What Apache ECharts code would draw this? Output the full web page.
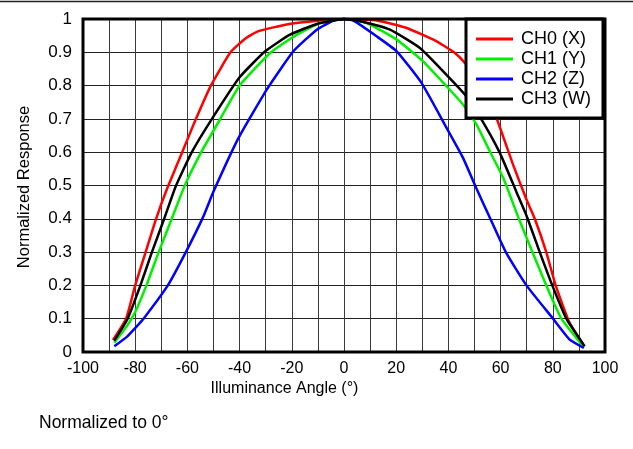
<!DOCTYPE html>
<html>
<head>
<meta charset="utf-8">
<script src="https://cdn.jsdelivr.net/npm/echarts@6/dist/echarts.min.js"></script>
<style>
  html, body { margin: 0; padding: 0; background: #fff; }
  #chart { width: 633px; height: 449px; }
</style>
</head>
<body>
<div id="chart"></div>
<script>
// Angular response of the four colour channels, normalized to the 0° reading
const seriesNames = ['CH0 (X)', 'CH1 (Y)', 'CH2 (Z)', 'CH3 (W)'];
const seriesColors = ['#ff0000', '#00f000', '#0000ff', '#000000'];

const ch0Angles = [-88.5, -83.5, -80, -76, -72, -67.8, -62, -57, -51, -43.5, -38, -33, -21, -10, 0,
                   13, 24, 35.5, 42.5, 46.3, 52, 58.4, 64.8, 69.8, 73.1, 77.5, 81.1, 86.3, 91.9];
const ch0Values = [0.036, 0.10, 0.20, 0.30, 0.40, 0.49, 0.60, 0.695, 0.80, 0.90, 0.94, 0.963, 0.985, 0.995, 1.0,
                   0.995, 0.973, 0.933, 0.898, 0.868, 0.805, 0.703, 0.562, 0.46, 0.40, 0.30, 0.20, 0.09, 0.02];

const ch1Angles = [-88, -83, -80, -75.7, -71, -66, -61, -54.7, -47.4, -40, -28.3, -18.1, -9.2, 0,
                   8.7, 20.2, 30.3, 39.3, 45.6, 50.8, 55.9, 61, 67, 72.2, 77.5, 83.3, 91.6];
const ch1Values = [0.028, 0.08, 0.12, 0.20, 0.30, 0.40, 0.50, 0.60, 0.70, 0.80, 0.898, 0.953, 0.988, 1.0,
                   0.988, 0.938, 0.873, 0.798, 0.743, 0.683, 0.602, 0.523, 0.40, 0.30, 0.20, 0.10, 0.017];

const ch2Angles = [-88, -83, -80, -76.8, -67.5, -60.6, -54, -50, -40.4, -29.6, -19.4, -10.4, -4, 0,
                   3.6, 12.5, 20.2, 29.7, 39.3, 45.6, 50.8, 55.5, 62, 69.9, 80.1, 86.5, 91.9];
const ch2Values = [0.017, 0.047, 0.072, 0.10, 0.20, 0.30, 0.405, 0.482, 0.643, 0.788, 0.903, 0.968, 0.995, 1.0,
                   0.995, 0.948, 0.903, 0.808, 0.673, 0.583, 0.49, 0.41, 0.30, 0.20, 0.10, 0.037, 0.012];

const ch3Angles = [-88, -82.9, -78, -73.6, -68.9, -64.6, -58.3, -50.6, -40, -30.2, -20.7, -10.4, 0,
                   6.1, 17.6, 29.1, 38, 46.3, 52.7, 59.7, 66.1, 69.9, 75, 79.8, 85.2, 92.2];
const ch3Values = [0.034, 0.10, 0.20, 0.30, 0.40, 0.495, 0.60, 0.70, 0.825, 0.903, 0.953, 0.985, 1.0,
                   0.993, 0.968, 0.913, 0.843, 0.773, 0.698, 0.598, 0.48, 0.41, 0.30, 0.20, 0.10, 0.017];

const xTickStep = 10;       // grid every 10°, labels every 20°
const yTickStep = 0.1;

const angleSets = [ch0Angles, ch1Angles, ch2Angles, ch3Angles];
const valueSets = [ch0Values, ch1Values, ch2Values, ch3Values];

const FONT = "'Liberation Sans', Arial, sans-serif";

const chart = echarts.init(document.getElementById('chart'), null, { renderer: 'canvas' });

const series = seriesNames.map((name, i) => ({
  name: name,
  type: 'line',
  data: angleSets[i].map((a, k) => [a, valueSets[i][k]]),
  symbol: 'none',
  smooth: 0.15,
  clip: false,
  lineStyle: { color: seriesColors[i], width: 2.5 },
  itemStyle: { color: seriesColors[i] },
  z: 3
}));

chart.setOption({
  animation: false,
  backgroundColor: '#ffffff',
  grid: { left: 83, right: 28, top: 19, bottom: 97, containLabel: false },
  xAxis: {
    type: 'value',
    min: -100, max: 100, interval: xTickStep,
    axisLine: { show: false },
    axisTick: { show: false },
    splitLine: { show: true, lineStyle: { color: '#3a3a3a', width: 1 } },
    axisLabel: {
      color: '#000', fontFamily: FONT, fontSize: 16, margin: 9,
      formatter: v => (Math.round(v) % 20 === 0 ? String(Math.round(v)) : '')
    }
  },
  yAxis: {
    type: 'value',
    min: 0, max: 1, interval: yTickStep,
    axisLine: { show: false },
    axisTick: { show: false },
    splitLine: { show: true, lineStyle: { color: '#222', width: 1 } },
    axisLabel: {
      color: '#000', fontFamily: FONT, fontSize: 17, margin: 11,
      formatter: v => String(Math.round(v * 10) / 10)
    }
  },
  legend: {
    data: seriesNames,
    orient: 'vertical',
    left: 466, top: 19,
    padding: [10, 12, 9, 10],
    backgroundColor: '#ffffff',
    borderColor: '#000',
    borderWidth: 3,
    icon: 'rect',
    itemWidth: 37, itemHeight: 3,
    itemGap: 0,
    textStyle: { color: '#000', fontFamily: FONT, fontSize: 18, lineHeight: 20, padding: [0, 0, 0, 3] },
    z: 10
  },
  series: series
});

// Plot frame drawn above the curves, plus the surrounding captions
const p0 = chart.convertToPixel({ gridIndex: 0 }, [-100, 0]);
const p1 = chart.convertToPixel({ gridIndex: 0 }, [100, 1]);

chart.setOption({
  graphic: [
    {
      type: 'line', z: 100,
      shape: { x1: 0, y1: 1.5, x2: 633, y2: 1.5 },
      style: { stroke: '#222', lineWidth: 1.5 }
    },
    {
      type: 'rect', z: 100,
      shape: { x: p0[0], y: p1[1], width: p1[0] - p0[0], height: p0[1] - p1[1] },
      style: { fill: null, stroke: '#000', lineWidth: 3 }
    },
    {
      type: 'text', z: 100,
      x: 284.5, y: 397,
      style: {
        text: 'Illuminance Angle (°)', fill: '#000',
        font: '16px ' + FONT, textAlign: 'center', textVerticalAlign: 'bottom'
      }
    },
    {
      type: 'text', z: 100,
      x: 24, y: 187, rotation: Math.PI / 2,
      style: {
        text: 'Normalized Response', fill: '#000',
        font: '16.5px ' + FONT, textAlign: 'center', textVerticalAlign: 'middle'
      }
    },
    {
      type: 'text', z: 100,
      x: 39, y: 432,
      style: {
        text: 'Normalized to 0°', fill: '#000',
        font: '17.5px ' + FONT, textAlign: 'left', textVerticalAlign: 'bottom'
      }
    }
  ]
});
</script>
</body>
</html>
